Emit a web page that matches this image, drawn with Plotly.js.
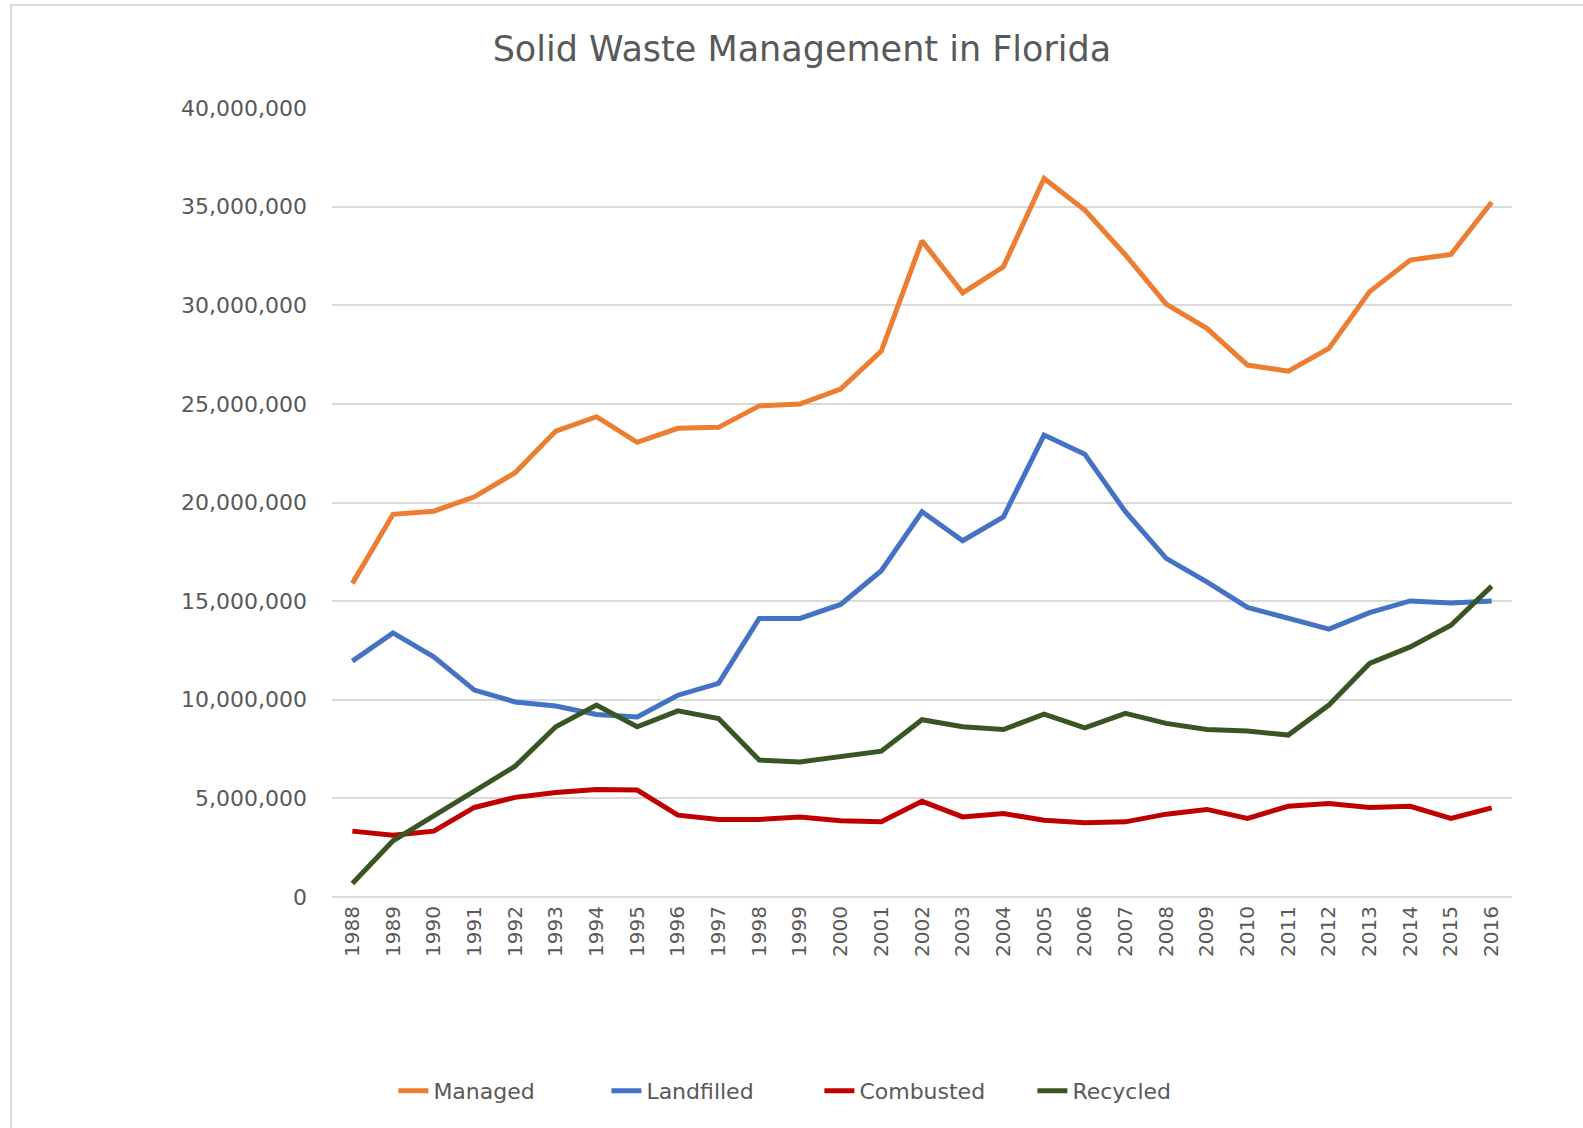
<!DOCTYPE html>
<html>
<head>
<meta charset="utf-8">
<script src="https://cdn.plot.ly/plotly-3.0.1.min.js"></script>
<style>
  html, body { margin: 0; padding: 0; background: #ffffff; }
  #chart { width: 1583px; height: 1128px; position: relative; }
  #frame { position: absolute; left: 10px; top: 4px; right: 0; bottom: 0;
           border-left: 2px solid #d9d9d9; border-top: 2px solid #d9d9d9; pointer-events: none; }
</style>
</head>
<body>
<div id="chart"></div>
<div id="frame"></div>
<script>
const years = ["1988","1989","1990","1991","1992","1993","1994","1995","1996","1997",
  "1998","1999","2000","2001","2002","2003","2004","2005","2006","2007",
  "2008","2009","2010","2011","2012","2013","2014","2015","2016"];

const managed = [15900000, 19400000, 19560000, 20290000, 21510000, 23620000, 24350000, 23050000, 23760000, 23810000,
  24900000, 24990000, 25750000, 27680000, 33270000, 30630000, 31950000, 36430000, 34830000, 32550000,
  30060000, 28830000, 26970000, 26660000, 27810000, 30690000, 32290000, 32580000, 35220000];

const landfilled = [11960000, 13390000, 12180000, 10490000, 9890000, 9680000, 9250000, 9130000, 10230000, 10830000,
  14120000, 14120000, 14830000, 16540000, 19530000, 18060000, 19270000, 23420000, 22450000, 19530000,
  17170000, 15980000, 14680000, 14120000, 13580000, 14420000, 15010000, 14910000, 15000000];

const combusted = [3340000, 3130000, 3340000, 4540000, 5050000, 5300000, 5450000, 5420000, 4150000, 3930000,
  3930000, 4060000, 3860000, 3810000, 4850000, 4060000, 4230000, 3890000, 3760000, 3810000,
  4200000, 4440000, 3980000, 4600000, 4740000, 4540000, 4600000, 3980000, 4520000];

const recycled = [680000, 2850000, 4110000, 5380000, 6630000, 8630000, 9730000, 8630000, 9440000, 9050000,
  6940000, 6850000, 7140000, 7390000, 8990000, 8630000, 8490000, 9270000, 8580000, 9310000,
  8800000, 8490000, 8410000, 8210000, 9730000, 11840000, 12680000, 13780000, 15760000];

const seriesNames = ["Managed", "Landfilled", "Combusted", "Recycled"];
const seriesValues = [managed, landfilled, combusted, recycled];
const seriesColors = ["#ED7D31", "#4472C4", "#C00000", "#375623"];

const FONT = "DejaVu Sans, Open Sans, sans-serif";

const traces = seriesNames.map((name, i) => ({
  type: "scatter",
  mode: "lines",
  name: name,
  x: years,
  y: seriesValues[i],
  line: { color: seriesColors[i], width: 5, shape: "linear" },
  hoverinfo: "x+y+name"
}));

const layout = {
  width: 1583,
  height: 1128,
  paper_bgcolor: "#ffffff",
  plot_bgcolor: "#ffffff",
  margin: { l: 332, r: 71, t: 108, b: 231, pad: 0 },
  title: {
    text: "Solid Waste Management in Florida",
    font: { family: FONT, size: 35, color: "#595959" },
    xref: "container", x: 0.5066, xanchor: "center",
    yref: "container", y: 0.9566, yanchor: "middle"
  },
  xaxis: {
    type: "category",
    range: [-0.5, years.length - 0.5],
    tickangle: -90,
    tickfont: { family: FONT, size: 20, color: "#595959" },
    showgrid: false,
    showline: false,
    zeroline: false,
    ticks: "",
    ticklabelstandoff: 4
  },
  yaxis: {
    range: [0, 40000000],
    dtick: 5000000,
    tick0: 0,
    tickformat: ",d",
    tickfont: { family: FONT, size: 22, color: "#595959" },
    showgrid: true,
    gridcolor: "#d9d9d9",
    gridwidth: 2,
    zeroline: true,
    zerolinecolor: "#d9d9d9",
    zerolinewidth: 2,
    showline: false,
    ticks: "",
    ticklabelstandoff: 24
  },
  showlegend: true,
  legend: {
    orientation: "h",
    xref: "container", x: 0.2485, xanchor: "left",
    yref: "container", y: 0.0328, yanchor: "middle",
    font: { family: FONT, size: 22, color: "#595959" },
    entrywidth: 168,
    entrywidthmode: "pixels",
    tracegroupgap: 0,
    bgcolor: "rgba(0,0,0,0)"
  }
};

Plotly.newPlot("chart", traces, layout, { displayModeBar: false, responsive: false });
</script>
</body>
</html>
